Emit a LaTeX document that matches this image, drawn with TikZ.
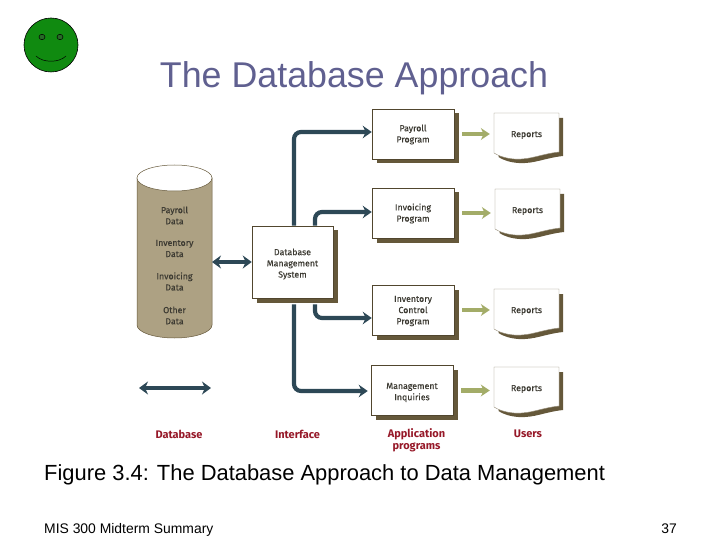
\documentclass[tikz,border=0pt]{standalone}
\usepackage{fontspec}
\setmainfont{Liberation Sans}
\newfontfamily\figfont[FakeBold=0.25]{Fira Sans}
\newfontfamily\labelfont{Fira Sans}
\usepackage{xcolor}
\usetikzlibrary{shadows,arrows.meta}
\definecolor{titleblue}{RGB}{96, 96, 144}
\definecolor{faceGreen}{RGB}{16, 138, 16}
\definecolor{eyeGreen}{RGB}{40, 105, 40}
\definecolor{dbtan}{RGB}{173, 161, 131}
\definecolor{shadowbrown}{RGB}{101, 88, 58}
\definecolor{flowblue}{RGB}{45, 72, 86}
\definecolor{flowgreen}{RGB}{163, 172, 104}
\definecolor{labelred}{RGB}{150, 24, 40}
\definecolor{figtext}{RGB}{60, 58, 50}
\tikzset{
  progbox/.style={draw=shadowbrown!80!black, line width=0.5pt, fill=white, minimum width=82pt, minimum height=50pt,
    drop shadow={shadow xshift=4.5pt, shadow yshift=-4.5pt, opacity=1, fill=shadowbrown}},
  datatext/.style={align=center, inner sep=0pt, text=figtext, font=\figfont\fontsize{8.8}{11.2}\selectfont},
  reporttext/.style={minimum width=65pt, inner sep=0pt, text=figtext, font=\figfont\fontsize{8.8}{11.2}\selectfont},
  partlabel/.style={align=center, text=labelred, font=\labelfont\bfseries\fontsize{11}{12}\selectfont},
  dbflow/.style={draw=flowblue, line width=4.2pt, rounded corners=7pt, -{Stealth[length=9pt,width=12.5pt]}},
  dbflowboth/.style={draw=flowblue, line width=4.2pt, {Stealth[length=9pt,width=13pt]}-{Stealth[length=9pt,width=13pt]}},
  reportflow/.style={draw=flowgreen, line width=4.5pt, -{Stealth[length=9pt,width=12pt]}, shorten <=8pt, shorten >=4pt}
}
\begin{document}
\begin{tikzpicture}[x=1pt,y=-1pt]
\useasboundingbox (0,0) rectangle (720,540);

\draw[black, line width=0.6pt, fill=faceGreen] (51,45) circle (27);
\draw[black, line width=0.5pt, fill=eyeGreen] (42,37) ellipse (3 and 2.7);
\draw[black, line width=0.5pt, fill=eyeGreen] (60,37) ellipse (3 and 2.7);
\draw[black, line width=0.5pt] (36,56) .. controls (43,63) and (59,63) .. (66,56);

\node[anchor=base, inner sep=0pt, text=titleblue, font=\fontsize{35.8}{36}\selectfont] (title) at (354,88) {The Database Approach};

\draw[shadowbrown, line width=0.5pt, fill=dbtan] (137,178) -- (137,325) arc[start angle=180, end angle=0, x radius=37.5, y radius=13] -- (212,178) -- cycle;
\draw[shadowbrown, line width=0.5pt, fill=white] (174.5,178) ellipse (37.5 and 13);
\coordinate (database) at (212,262);
\node[datatext] (payrolldata) at (174.5,215.5) {Payroll\\Data};
\node[datatext] (inventorydata) at (174.5,248.5) {Inventory\\Data};
\node[datatext] (invoicingdata) at (174.5,281.5) {Invoicing\\Data};
\node[datatext] (otherdata) at (174.5,315.5) {Other\\Data};

\node[progbox, label={[datatext, yshift=-0.5pt]center:{Payroll\\Program}}] (payroll) at (413,134) {};
\node[progbox, label={[datatext, yshift=-0.5pt]center:{Invoicing\\Program}}] (invoicing) at (413,213) {};
\node[progbox, label={[datatext, yshift=-1pt]center:{Inventory\\Control\\Program}}] (inventory) at (413,310) {};
\node[progbox, label={[datatext, yshift=-2pt]center:{Management\\Inquiries}}] (inquiries) at (412,390.5) {};
\node[progbox, minimum width=81pt, minimum height=72pt, label={[datatext, yshift=-2pt]center:{Database\\Management\\System}}] (dbms) at (292.5,262) {};

\draw[dbflow] ([xshift=1.5pt]dbms.north) |- ([yshift=2pt]payroll.west);
\draw[dbflow] ([xshift=22.5pt]dbms.north) |- ([yshift=1pt]invoicing.west);
\draw[dbflow] ([xshift=22.5pt,yshift=-6pt]dbms.south) |- ([yshift=-8pt]inventory.west);
\draw[dbflow, shorten >=3pt] ([xshift=1.5pt,yshift=-6pt]dbms.south) |- ([yshift=-0.5pt]inquiries.west);
\draw[dbflowboth] (database) -- (dbms.west);

\foreach \name/\xpos/\ypos in {reportA/526.5/135, reportB/527.5/211, reportC/526.5/311, reportD/526.5/389}{
  \begin{scope}[shift={(\xpos,\ypos)}]
    \fill[shadowbrown] (-28,-17) -- (36.5,-17) -- (36.5,21) .. controls (18,23) and (8,29) .. (-8,28) .. controls (-16,27.5) and (-24,25) .. (-28,22) -- cycle;
    \draw[shadowbrown!70, line width=0.4pt, fill=white] (-32.5,-22) -- (32.5,-22) -- (32.5,17) .. controls (14,19) and (4,25) .. (-12,24) .. controls (-20,23.5) and (-28,21) .. (-32.5,18) -- cycle;
  \end{scope}
  \node[reporttext] (\name) at (\xpos,\ypos) {Reports};
}
\draw[reportflow] (payroll.east) -- (payroll.east -| reportA.west);
\draw[reportflow] (invoicing.east) -- (invoicing.east -| reportB.west);
\draw[reportflow] (inventory.east) -- (inventory.east -| reportC.west);
\draw[reportflow] (inquiries.east) -- (inquiries.east -| reportD.west);

\coordinate (legendleft) at (139,388);
\coordinate (legendright) at (211,388);
\draw[dbflowboth] (legendleft) -- (legendright);

\node[partlabel] (dblabel) at (179,434) {Database};
\node[partlabel] (interfacelabel) at (297.5,434) {Interface};
\node[partlabel] (applabel) at (416.5,440) {Application\\programs};
\node[partlabel] (userslabel) at (528,434) {Users};

\node[anchor=base west, inner sep=0pt, font=\fontsize{21.9}{22}\selectfont] (caption) at (44,480) {Figure 3.4: The Database Approach to Data Management};
\node[anchor=base west, inner sep=0pt, font=\fontsize{13.9}{14}\selectfont] (footer) at (44,533) {MIS 300 Midterm Summary};
\node[anchor=base east, inner sep=0pt, font=\fontsize{13.9}{14}\selectfont] (pagenum) at (677,533) {37};
\end{tikzpicture}
\end{document}
